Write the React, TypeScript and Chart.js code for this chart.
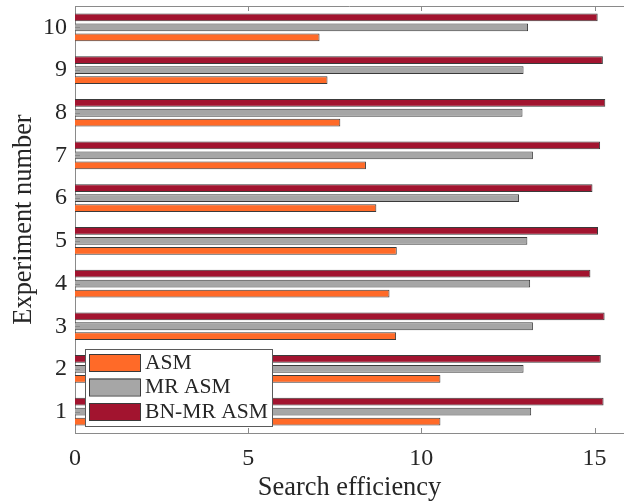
import React, { useEffect, useRef } from 'react';
import { Chart, registerables } from 'chart.js';

Chart.register(...registerables);

const experiments = ['1', '2', '3', '4', '5', '6', '7', '8', '9', '10'];
const asm = [10.55, 10.55, 9.27, 9.08, 9.29, 8.7, 8.4, 7.66, 7.29, 7.06];
const mrAsm = [13.17, 12.95, 13.22, 13.14, 13.06, 12.82, 13.22, 12.92, 12.95, 13.08];
const bnMrAsm = [15.26, 15.18, 15.29, 14.88, 15.1, 14.94, 15.16, 15.31, 15.24, 15.09];
const xTicks = [0, 5, 10, 15];
const seriesNames = ['ASM', 'MR ASM', 'BN-MR ASM'];
const seriesColors = ['#FF6A28', '#A6A6A6', '#A2142F'];

const FONT = "'Liberation Serif', 'Times New Roman', serif";
const AXIS = '#8a8a8a';
const TEXT = '#262626';

const framePlugin = {
  id: 'frame',
  afterDatasetsDraw(chart: any) {
    const { ctx, chartArea: a, scales } = chart;
    ctx.save();
    ctx.strokeStyle = AXIS;
    ctx.lineWidth = 1;
    ctx.beginPath();
    ctx.moveTo(a.left, a.top + 0.5);
    ctx.lineTo(a.right, a.top + 0.5);
    xTicks.forEach((v) => {
      const px = Math.round(scales.x.getPixelForValue(v)) + 0.5;
      ctx.moveTo(px, a.top);
      ctx.lineTo(px, a.top + 5);
      ctx.moveTo(px, a.bottom);
      ctx.lineTo(px, a.bottom - 5);
    });
    experiments.forEach((_, i) => {
      const py = Math.round(scales.y.getPixelForValue(i)) + 0.5;
      ctx.moveTo(a.left, py);
      ctx.lineTo(a.left + 5, py);
    });
    ctx.stroke();
    ctx.restore();
  },
};

const legendPlugin = {
  id: 'boxLegend',
  afterDraw(chart: any) {
    const { ctx, chartArea: a } = chart;
    const left = a.left + 10;
    const top = a.bottom - 84;
    const w = 187;
    const h = 77;
    ctx.save();
    ctx.fillStyle = '#ffffff';
    ctx.fillRect(left, top, w, h);
    ctx.strokeStyle = '#5a5a5a';
    ctx.lineWidth = 1;
    ctx.strokeRect(left + 0.5, top + 0.5, w, h);
    ctx.font = `21.6px ${FONT}`;
    ctx.textBaseline = 'middle';
    ctx.textAlign = 'left';
    seriesNames.forEach((name, i) => {
      const sy = top + 5 + i * 24.5;
      ctx.fillStyle = seriesColors[i];
      ctx.fillRect(left + 4, sy, 51, 17);
      ctx.strokeStyle = '#3a3a3a';
      ctx.strokeRect(left + 4.5, sy + 0.5, 51, 17);
      ctx.fillStyle = TEXT;
      ctx.fillText(name, left + 60, sy + 9);
    });
    ctx.restore();
  },
};

export default function App() {
  const ref = useRef<HTMLCanvasElement | null>(null);

  useEffect(() => {
    if (!ref.current) return;
    const series = [asm, mrAsm, bnMrAsm];
    const datasets = [2, 1, 0].map((k) => ({
      label: seriesNames[k],
      data: series[k],
      backgroundColor: seriesColors[k],
      borderColor: '#3a3a3a',
      borderWidth: 1,
      categoryPercentage: 0.7,
      barPercentage: 0.78,
    }));
    const chart = new Chart(ref.current, {
      type: 'bar',
      data: { labels: experiments, datasets },
      options: {
        indexAxis: 'y',
        animation: false,
        responsive: false,
        devicePixelRatio: 1,
        layout: { padding: { top: 6, left: 0, right: 0, bottom: 0 } },
        plugins: {
          legend: { display: false },
          tooltip: { enabled: false },
        },
        scales: {
          x: {
            type: 'linear',
            min: 0,
            max: 15.85,
            afterBuildTicks: (s: any) => {
              s.ticks = xTicks.map((v) => ({ value: v }));
            },
            afterFit: (s: any) => {
              s.height = 71;
              s.paddingLeft = 0;
              s.paddingRight = 0;
            },
            grid: { display: false, drawTicks: false },
            border: { display: true, color: AXIS, width: 1 },
            ticks: {
              padding: 11,
              color: TEXT,
              font: { family: FONT, size: 24 },
              callback: (v: any) => String(v),
            },
            title: {
              display: true,
              text: 'Search efficiency',
              color: TEXT,
              font: { family: FONT, size: 26.4 },
              padding: { top: 0, bottom: 0 },
            },
          },
          y: {
            type: 'category',
            reverse: true,
            afterFit: (s: any) => {
              s.width = 75;
              s.paddingTop = 0;
              s.paddingBottom = 0;
            },
            grid: { display: false, drawTicks: false },
            border: { display: true, color: AXIS, width: 1 },
            ticks: {
              padding: 8,
              color: TEXT,
              font: { family: FONT, size: 24 },
            },
            title: {
              display: true,
              text: 'Experiment number',
              color: TEXT,
              font: { family: FONT, size: 26.4 },
              padding: { top: 8, bottom: 0 },
            },
          },
        },
      },
      plugins: [framePlugin, legendPlugin],
    } as any);
    return () => chart.destroy();
  }, []);

  return (
    <div style={{ position: 'fixed', left: 0, top: 0, width: 624, height: 504, background: '#fff' }}>
      <canvas ref={ref} width={624} height={504} style={{ width: 624, height: 504, display: 'block' }} />
    </div>
  );
}
